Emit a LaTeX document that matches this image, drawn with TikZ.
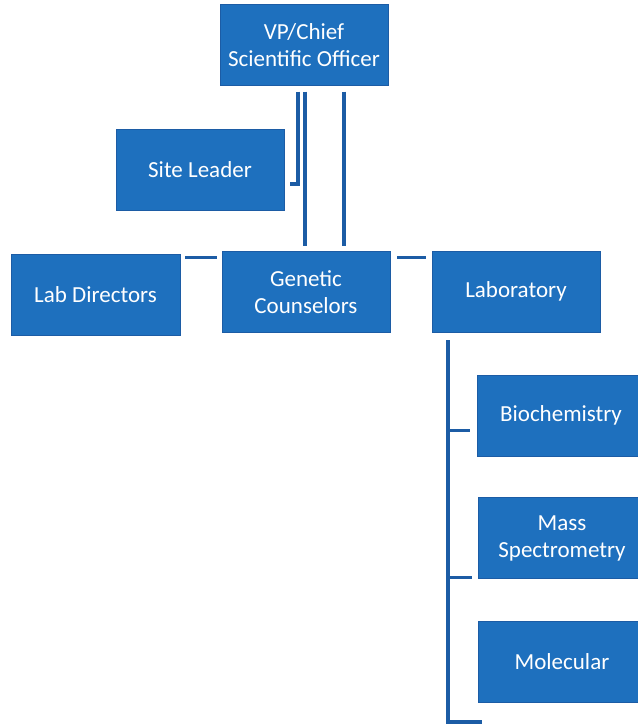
\documentclass[tikz,border=0pt]{standalone}
\usepackage{fontspec}
\setmainfont{Carlito}
\definecolor{orgblue}{RGB}{30,112,190}
\definecolor{orgline}{RGB}{28,92,165}

\begin{document}
\begin{tikzpicture}[x=1pt,y=-1pt,
    box/.style={rectangle, draw=orgline, fill=orgblue, text=white, minimum height=81pt, minimum width=168pt, align=center, inner sep=0, font=\fontsize{23}{27}\selectfont},
    link/.style={draw=orgline, line width=3.5pt}]
    \useasboundingbox (0,0) rectangle (637,725);
    \draw
    (304,45)node[box](vp){VP/Chief\\Scientific Officer}
    (200,170)node[box](site){Site Leader}
    (306,292)node[box](gc){Genetic\\Counselors}
    (95.5,294.5)node[box, minimum width=169pt](dir){Lab Directors}
    (516,291.5)node[box](lab){Laboratory}
    (561,415.5)node[box](bio){Biochemistry}
    (562,538)node[box](mass){Mass\\Spectrometry}
    (562,662)node[box](mol){Molecular}
    ;
    \coordinate (bus) at ([xshift=16pt,yshift=-8pt]lab.south west);
    \coordinate (busend) at (482,722);
    \draw[link] ([xshift=-6pt,yshift=-6pt]vp.south) |- ([xshift=6pt,yshift=-14pt]site.east);
    \draw[link] ([xshift=1pt,yshift=-6pt]vp.south) -- ([xshift=-1pt,yshift=5pt]gc.north);
    \draw[link] ([xshift=40pt,yshift=-6pt]vp.south) -- ([xshift=38pt,yshift=5pt]gc.north);
    \draw[link] ([xshift=-5pt,yshift=-6pt]gc.north west) -- ++(-32pt,0);
    \draw[link] ([xshift=7pt,yshift=-6pt]gc.north east) -- ++(29pt,0);
    \draw[link] (bus) |- (busend);
    \draw[link] ([xshift=-7pt,yshift=-15pt]bio.west) -- ++(-22pt,0);
    \draw[link] ([xshift=-6pt,yshift=1pt]mass.south west) -- ++(-24pt,0);
\end{tikzpicture}
\end{document}
